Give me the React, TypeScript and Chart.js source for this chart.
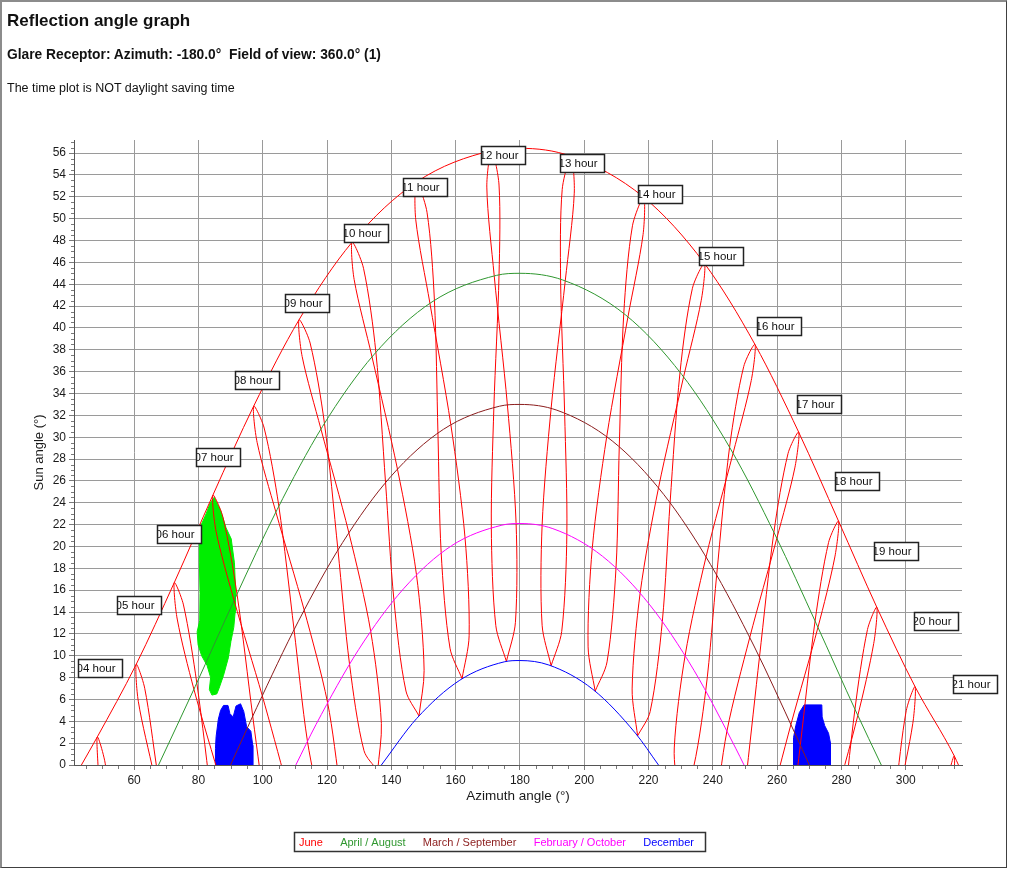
import React, { useEffect, useRef } from "react";
import { Chart, registerables } from "chart.js";

Chart.register(...registerables);

// ---------------- Axes ----------------
const xTickValues = [60, 80, 100, 120, 140, 160, 180, 200, 220, 240, 260, 280, 300];
const yTickValues = [0, 2, 4, 6, 8, 10, 12, 14, 16, 18, 20, 22, 24, 26, 28, 30, 32, 34, 36, 38, 40, 42, 44, 46, 48, 50, 52, 54, 56];
const xMin = 41.3;
const xMax = 317.5;
const yMin = 0;
const yMax = 57.2;

// ---------------- Day curves (azimuth °, sun angle °) ----------------
const juneAz = [43.6, 48.55, 60.66, 72.5, 84.5, 97.2, 111.3, 127.8, 147.8, 171.2, 180, 195.9, 218.5, 237.4, 253.1, 266.7, 279.1, 291.0, 302.9, 315.1, 316.4];
const juneEl = [0, 2.57, 9.22, 16.7, 24.7, 32.85, 40.75, 47.85, 53.35, 56.23, 56.44, 55.71, 51.96, 45.9, 38.49, 30.46, 22.32, 14.44, 7.17, 0.83, 0];

const aprAugAz = [67.6, 79.0, 91.5, 104.5, 118.6, 134.5, 152.65, 172.7, 180, 193.3, 212.9, 230.3, 245.7, 259.4, 272.2, 284.6, 292.4];
const aprAugEl = [0, 7.19, 15.32, 23.39, 30.98, 37.53, 42.38, 44.81, 45.0, 44.39, 41.18, 35.75, 28.83, 21.05, 12.92, 4.85, 0];

const marSepAz = [90, 98.16, 111.1, 124.85, 139.8, 156.2, 173.7, 180, 191.5, 208.7, 224.7, 239.3, 252.8, 265.55, 270];
const marSepEl = [0, 5.27, 13.16, 20.36, 26.39, 30.72, 32.84, 33.0, 32.47, 29.66, 24.77, 18.34, 10.89, 2.89, 0];

const febOctAz = [110.3, 116.6, 129.8, 143.8, 158.7, 174.4, 180, 190.25, 205.7, 220.4, 234.15, 247.1, 249.7];
const febOctEl = [0, 3.72, 10.55, 16.13, 20.06, 21.95, 22.1, 21.63, 19.1, 14.65, 8.66, 1.54, 0];

const decAz = [136.9, 147.9, 161.3, 175.1, 180, 189.0, 202.7, 215.9, 223.1];
const decEl = [0, 4.26, 7.76, 9.44, 9.56, 9.15, 6.92, 2.92, 0];

// ---------------- Hour loops (through the year) ----------------
const h04Az = [54.1, 51.0, 48.55, 48.9];
const h04El = [-7.4, 0.16, 2.57, -0.86];
const h05Az = [67.05, 63.3, 60.66, 61.3, 66.15];
const h05El = [-0.31, 7.02, 9.22, 5.83, -0.84];
const h06Az = [84.3, 79.5, 75.35, 72.5, 73.4, 78.6, 87.2];
const h06El = [-3.72, 7.5, 14.65, 16.7, 13.36, 6.93, -1.8];
const h07Az = [101.4, 96.9, 92.0, 87.6, 84.5, 85.5, 91.1, 99.85, 107.4];
const h07El = [-5.59, 4.45, 15.64, 22.71, 24.7, 21.37, 15.06, 6.35, -1.74];
const h08Az = [119.05, 113.9, 109.75, 105.0, 100.45, 97.2, 98.26, 104.1, 112.9, 120.15, 124.2];
const h08El = [-5.35, 2.19, 12.38, 23.7, 30.84, 32.85, 29.52, 23.14, 14.18, 5.74, -2.39];
const h09Az = [135.75, 131.5, 127.0, 123.4, 119.2, 114.74, 111.3, 112.26, 118.1, 126.8, 133.55, 136.9, 135.75];
const h09El = [-0.53, 1.31, 9.23, 19.68, 31.26, 38.62, 40.75, 37.39, 30.75, 21.25, 12.29, 3.81, -0.53];
const h10Az = [148.6, 144.55, 140.8, 138.2, 135.2, 131.35, 127.8, 128.43, 134.0, 141.9, 147.8, 150.2, 148.6];
const h10El = [4.49, 6.77, 15.12, 25.85, 37.76, 45.46, 47.85, 44.44, 37.34, 27.09, 17.46, 8.66, 4.49];
const h11Az = [162.0, 158.25, 155.5, 154.5, 153.4, 151.1, 147.8, 147.6, 152.0, 158.5, 162.9, 164.2, 162.0];
const h11El = [7.9, 10.69, 19.44, 30.38, 42.53, 50.59, 53.35, 49.9, 42.26, 31.16, 20.88, 11.83, 7.9];
const h12Az = [175.8, 172.5, 171.1, 171.9, 173.5, 173.5, 171.2, 169.7, 172.0, 176.1, 178.8, 178.6, 175.8];
const h12El = [9.48, 12.75, 21.78, 32.75, 44.85, 53.08, 56.23, 52.89, 44.78, 32.96, 22.17, 13.06, 9.48];
const h13Az = [189.7, 186.9, 186.9, 189.7, 194.1, 196.9, 195.9, 193.15, 192.65, 193.9, 194.6, 193.0, 189.7];
const h13El = [9.08, 12.79, 21.94, 32.64, 44.32, 52.33, 55.71, 52.68, 44.45, 32.25, 21.23, 12.23, 9.08];
const h14Az = [203.4, 201.2, 202.5, 207.0, 213.6, 218.3, 218.5, 215.0, 212.3, 210.9, 209.9, 207.1, 203.4];
const h14El = [6.76, 10.81, 19.84, 30.06, 41.01, 48.55, 51.96, 49.35, 41.32, 29.14, 18.12, 9.44, 6.76];
const h15Az = [216.6, 214.9, 217.4, 223.1, 230.9, 236.4, 237.4, 233.65, 229.8, 226.7, 224.3, 220.5, 216.6];
const h15El = [2.67, 6.96, 15.76, 25.36, 35.51, 42.53, 45.9, 43.63, 35.95, 24.0, 13.18, 4.88, 2.67];
const h16Az = [229.2, 228.0, 231.4, 237.9, 246.3, 251.95, 253.1, 249.6, 245.2, 241.2, 237.8, 233.3, 229.2];
const h16El = [-2.89, 1.56, 10.05, 19.06, 28.54, 35.19, 38.49, 36.46, 29.07, 17.4, 6.83, -1.08, -2.89];
const h17Az = [240.4, 244.4, 251.5, 259.9, 265.5, 266.7, 263.4, 259.0, 254.5, 250.6];
const h17El = [-5.07, 3.12, 11.69, 20.74, 27.19, 30.46, 28.52, 21.31, 9.85, -0.54];
const h18Az = [256.9, 264.3, 272.7, 277.95, 279.1, 276.0, 271.8, 267.2, 263.1];
const h18El = [-4.6, 3.72, 12.6, 19.04, 22.32, 20.37, 13.18, 1.8, -8.5];
const h19Az = [276.9, 285.1, 290.05, 291.0, 288.1, 284.2, 279.9];
const h19El = [-4.45, 4.54, 11.13, 14.44, 12.4, 5.1, -6.35];
const h20Az = [297.7, 302.2, 302.9, 300.15, 296.8];
const h20El = [-3.04, 3.81, 7.17, 4.96, -2.53];
const h21Az = [314.7, 315.1, 312.6];
const h21El = [-2.57, 0.83, -1.61];

// ---------------- Hour labels ----------------
const hourLabels = ["04 hour", "05 hour", "06 hour", "07 hour", "08 hour", "09 hour", "10 hour", "11 hour", "12 hour", "13 hour", "14 hour", "15 hour", "16 hour", "17 hour", "18 hour", "19 hour", "20 hour", "21 hour"];
const hourLabelAz = [42.5, 54.75, 67.2, 79.4, 91.35, 106.9, 125.3, 143.7, 167.8, 192.4, 216.8, 235.7, 253.8, 266.1, 278.0, 290.1, 302.55, 314.7];
const hourLabelEl = [8.87, 14.63, 21.13, 28.17, 35.22, 42.28, 48.71, 52.87, 55.8, 55.11, 52.3, 46.6, 40.2, 33.07, 25.96, 19.54, 13.14, 7.44];

// ---------------- Glare areas ----------------
const glareGreenAz = [84.9, 86.9, 88.6, 90.2, 91.2, 91.6, 91.4, 91.0, 90.1, 89.3, 87.8, 86.4, 85.7, 84.2, 83.4, 83.8, 82.7, 81.0, 79.9, 79.6, 80.4, 80.5, 80.3, 80.3, 80.6, 82.4, 83.7, 84.9];
const glareGreenEl = [24.5, 23.3, 21.7, 20.7, 18.5, 15.8, 13.9, 12.6, 11.3, 9.8, 8.2, 7.0, 6.5, 6.4, 6.9, 8.0, 9.1, 10.0, 11.0, 12.2, 13.2, 15.7, 18.5, 20.0, 21.8, 23.0, 24.0, 24.5];
const glareBlueMorningAz = [85.2, 85.3, 85.5, 86.2, 86.9, 87.8, 89.2, 89.8, 90.8, 91.7, 93.1, 94.1, 95.0, 96.3, 96.9, 96.9, 85.2];
const glareBlueMorningEl = [0, 1.5, 2.6, 4.2, 5.0, 5.45, 5.45, 4.7, 4.4, 5.4, 5.6, 4.9, 3.5, 3.1, 1.8, 0, 0];
const glareBlueEveningAz = [265.0, 265.1, 265.8, 266.9, 268.4, 273.9, 274.0, 274.8, 276.0, 276.6, 276.6, 265.0];
const glareBlueEveningEl = [0, 2.5, 3.6, 4.8, 5.5, 5.5, 4.4, 3.6, 2.9, 2.0, 0, 0];

// ---------------- Legend / series names ----------------
const seriesNames = ["June", "April / August", "March / September", "February / October", "December"];
const seriesColors = ["#ff0000", "#2f972f", "#8b1c1c", "#ff00ff", "#0000ff"];

const pts = (az: number[], el: number[]) => az.map((a, i) => ({ x: a, y: el[i] }));

const FONT = '"Liberation Sans", Arial, sans-serif';

const overlayPlugin = {
  id: "overlay",
  afterDatasetsDraw(chart: any) {
    const { ctx, scales } = chart;
    const xs = scales.x;
    const ys = scales.y;
    ctx.save();
    ctx.font = `11.5px ${FONT}`;
    ctx.textBaseline = "middle";
    for (let i = 0; i < hourLabels.length; i++) {
      const left = Math.round(xs.getPixelForValue(hourLabelAz[i]));
      const cy = ys.getPixelForValue(hourLabelEl[i]);
      const top = Math.round(cy - 9);
      const w = 44;
      const h = 18;
      ctx.fillStyle = "#ffffff";
      ctx.fillRect(left, top, w, h);
      ctx.save();
      ctx.beginPath();
      ctx.rect(left + 1, top + 1, w - 2, h - 2);
      ctx.clip();
      ctx.fillStyle = "#111111";
      ctx.textAlign = "left";
      ctx.fillText(hourLabels[i], left - 1.5, top + h / 2 + 0.5);
      ctx.restore();
      ctx.strokeStyle = "#222222";
      ctx.lineWidth = 1.5;
      ctx.strokeRect(left + 0.5, top + 0.5, w, h);
    }
    ctx.restore();
  },
  afterDraw(chart: any) {
    const { ctx, scales, chartArea } = chart;
    const xs = scales.x;
    const ys = scales.y;
    ctx.save();
    // minor ticks
    ctx.strokeStyle = "#7a7a7a";
    ctx.lineWidth = 1;
    ctx.beginPath();
    for (let v = Math.ceil(xs.min / 5) * 5; v <= xs.max; v += 5) {
      if (v % 20 === 0) continue;
      const px = Math.round(xs.getPixelForValue(v)) + 0.5;
      ctx.moveTo(px, chartArea.bottom + 1);
      ctx.lineTo(px, chartArea.bottom + 4);
    }
    for (let v = 0.5; v <= ys.max; v += 0.5) {
      if (v % 2 === 0) continue;
      const py = Math.round(ys.getPixelForValue(v)) + 0.5;
      ctx.moveTo(chartArea.left - 3, py);
      ctx.lineTo(chartArea.left, py);
    }
    ctx.stroke();

    // legend
    ctx.font = `11px ${FONT}`;
    ctx.textBaseline = "alphabetic";
    ctx.textAlign = "left";
    const boxLeft = 294;
    const boxTop = 832;
    const boxW = 411;
    const padL = 5;
    const padR = 11;
    const widths = seriesNames.map((n) => ctx.measureText(n).width);
    const sum = widths.reduce((a, b) => a + b, 0);
    const gap = (boxW - padL - padR - sum) / (widths.length - 1);
    ctx.strokeStyle = "#333333";
    ctx.lineWidth = 1.5;
    ctx.strokeRect(boxLeft + 0.5, boxTop + 0.5, boxW, 19);
    let x = boxLeft + padL;
    seriesNames.forEach((n, i) => {
      ctx.fillStyle = seriesColors[i];
      ctx.fillText(n, x, boxTop + 14);
      x += widths[i] + gap;
    });
    ctx.restore();
  },
};

export default function App() {
  const canvasRef = useRef<HTMLCanvasElement | null>(null);

  useEffect(() => {
    const canvas = canvasRef.current;
    if (!canvas) return;

    const dayCurves = [
      [juneAz, juneEl],
      [aprAugAz, aprAugEl],
      [marSepAz, marSepEl],
      [febOctAz, febOctEl],
      [decAz, decEl],
    ].map(([az, el], i) => ({
      label: seriesNames[i],
      data: pts(az, el),
      borderColor: seriesColors[i],
      backgroundColor: seriesColors[i],
      borderWidth: 1,
      pointRadius: 0,
      showLine: true,
      fill: false,
      cubicInterpolationMode: "monotone" as const,
    }));

    const loops = [
      [h04Az, h04El], [h05Az, h05El], [h06Az, h06El], [h07Az, h07El], [h08Az, h08El], [h09Az, h09El],
      [h10Az, h10El], [h11Az, h11El], [h12Az, h12El], [h13Az, h13El], [h14Az, h14El], [h15Az, h15El],
      [h16Az, h16El], [h17Az, h17El], [h18Az, h18El], [h19Az, h19El], [h20Az, h20El], [h21Az, h21El],
    ].map(([az, el], i) => ({
      label: hourLabels[i],
      data: pts(az, el),
      borderColor: "#ff0000",
      borderWidth: 1,
      pointRadius: 0,
      showLine: true,
      fill: false,
      tension: 0.3,
    }));

    const blobs = [
      { az: glareGreenAz, el: glareGreenEl, color: "#00ee00" },
      { az: glareBlueMorningAz, el: glareBlueMorningEl, color: "#0000ff" },
      { az: glareBlueEveningAz, el: glareBlueEveningEl, color: "#0000ff" },
    ].map((b, i) => ({
      label: "glare " + i,
      data: pts(b.az, b.el),
      borderColor: b.color,
      backgroundColor: b.color,
      borderWidth: 1,
      pointRadius: 0,
      showLine: true,
      fill: "shape" as const,
      tension: 0,
    }));

    const chart = new Chart(canvas, {
      type: "scatter",
      data: { datasets: [...dayCurves, ...loops, ...blobs] as any },
      options: {
        animation: false,
        responsive: false,
        devicePixelRatio: 1,
        events: [],
        layout: { padding: { left: 28, right: 48, top: 140, bottom: 62 }, autoPadding: false } as any,
        plugins: { legend: { display: false }, tooltip: { enabled: false }, title: { display: false } },
        elements: { point: { radius: 0 } },
        scales: {
          x: {
            type: "linear",
            min: xMin,
            max: xMax,
            afterBuildTicks: (s: any) => {
              s.ticks = xTickValues.map((v) => ({ value: v }));
            },
            afterFit: (s: any) => {
              s.height = 45;
            },
            grid: { color: "#9a9a9a", lineWidth: 1, drawTicks: true, tickLength: 5, tickColor: "#7a7a7a" },
            border: { display: true, color: "#555555", width: 1 },
            ticks: {
              font: { family: FONT, size: 12 },
              color: "#1a1a1a",
              padding: 3,
              maxRotation: 0,
              autoSkip: false,
              callback: (v: any) => String(v),
            },
            title: {
              display: true,
              text: "Azimuth angle (°)",
              font: { family: FONT, size: 13.5 },
              color: "#1a1a1a",
              padding: { top: 0, bottom: 6 },
            },
          },
          y: {
            type: "linear",
            min: yMin,
            max: yMax,
            afterBuildTicks: (s: any) => {
              s.ticks = yTickValues.map((v) => ({ value: v }));
            },
            afterFit: (s: any) => {
              s.width = 46;
            },
            grid: { color: "#9a9a9a", lineWidth: 1, drawTicks: true, tickLength: 5, tickColor: "#7a7a7a" },
            border: { display: true, color: "#555555", width: 1 },
            ticks: {
              font: { family: FONT, size: 12 },
              color: "#1a1a1a",
              padding: 3,
              autoSkip: false,
              callback: (v: any) => String(v),
            },
            title: {
              display: true,
              text: "Sun angle (°)",
              font: { family: FONT, size: 13 },
              color: "#1a1a1a",
              padding: { top: 4, bottom: 0 },
            },
          },
        },
      },
      plugins: [overlayPlugin],
    });

    return () => chart.destroy();
  }, []);

  const textBase: React.CSSProperties = {
    position: "absolute",
    left: 7,
    fontFamily: FONT,
    color: "#111",
    whiteSpace: "pre",
    margin: 0,
  };

  return (
    <div style={{ position: "absolute", left: 0, top: 0, width: 1010, height: 872, background: "#ffffff", overflow: "hidden" }}>
      <canvas ref={canvasRef} width={1010} height={872} style={{ position: "absolute", left: 0, top: 0, width: 1010, height: 872 }} />
      <div
        style={{
          position: "absolute",
          left: 0,
          top: 0,
          width: 1007,
          height: 868,
          boxSizing: "border-box",
          borderTop: "2px solid #8c8c8c",
          borderLeft: "2px solid #8c8c8c",
          borderRight: "1px solid #404040",
          borderBottom: "1px solid #404040",
          pointerEvents: "none",
        }}
      />
      <div style={{ ...textBase, top: 11.6, fontSize: 17, lineHeight: "17px", fontWeight: 700 }}>Reflection angle graph</div>
      <div style={{ ...textBase, top: 47.6, fontSize: 13.8, lineHeight: "13.8px", fontWeight: 700 }}>
        {"Glare Receptor: Azimuth: -180.0°  Field of view: 360.0° (1)"}
      </div>
      <div style={{ ...textBase, top: 82.1, fontSize: 12.5, lineHeight: "12.5px" }}>The time plot is NOT daylight saving time</div>
    </div>
  );
}
